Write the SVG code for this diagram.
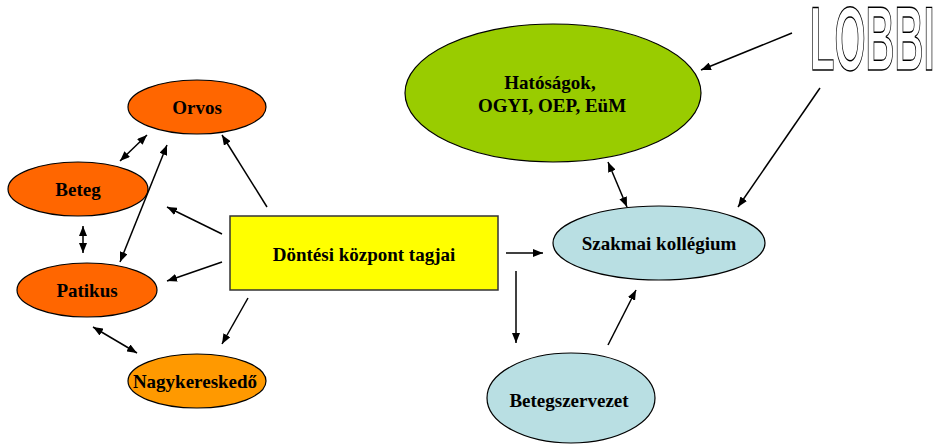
<svg xmlns="http://www.w3.org/2000/svg" width="940" height="445" viewBox="0 0 940 445">
<defs>
<marker id="ah" viewBox="0 0 10 8" refX="10" refY="4" markerWidth="10" markerHeight="8" markerUnits="userSpaceOnUse" orient="auto-start-reverse">
<path d="M0,0 L10,4 L0,8 Z" fill="#000"/>
</marker>
<style>
.n{stroke:#000;stroke-width:1.2}
.t{font-family:"Liberation Serif","Times New Roman",serif;font-weight:bold;font-size:19px;fill:#000;text-anchor:middle}
.c line{stroke:#000;stroke-width:1.5;fill:none}
.one{marker-end:url(#ah)}
.two{marker-start:url(#ah);marker-end:url(#ah)}
</style>
</defs>
<rect width="940" height="445" fill="#fff"/>
<g id="orvos"><ellipse class="n" cx="197" cy="107" rx="69" ry="27" fill="#FF6600"/><text class="t" x="197" y="114">Orvos</text></g>
<g id="beteg"><ellipse class="n" cx="78" cy="189" rx="70" ry="27" fill="#FF6600"/><text class="t" x="78" y="196">Beteg</text></g>
<g id="patikus"><ellipse class="n" cx="87" cy="290" rx="70" ry="27" fill="#FF6600"/><text class="t" x="87" y="297">Patikus</text></g>
<g id="nagykereskedo"><ellipse class="n" cx="197" cy="381" rx="69" ry="27" fill="#FF9900"/><text class="t" x="195" y="388">Nagykereskedő</text></g>
<g id="dontesi"><rect x="230" y="216" width="268" height="74" fill="#FFFF00" stroke="#333" stroke-width="1.5"/><text class="t" x="364" y="261">Döntési központ tagjai</text></g>
<g id="hatosagok"><ellipse class="n" cx="553" cy="93" rx="148" ry="69" fill="#99CC00"/><text class="t" x="550" y="89">Hatóságok,</text><text class="t" x="552" y="112">OGYI, OEP, EüM</text></g>
<g id="szakmai"><ellipse class="n" cx="659" cy="243" rx="106" ry="37" fill="#B9DFE3"/><text class="t" x="659" y="250">Szakmai kollégium</text></g>
<g id="betegszervezet"><ellipse class="n" cx="571" cy="398" rx="84" ry="45" fill="#B9DFE3"/><text class="t" x="569" y="407">Betegszervezet</text></g>
<g id="lobbi"><text transform="translate(810,70) scale(0.44,1)" x="0" y="0" font-family="Liberation Sans,Arial,sans-serif" font-weight="bold" font-size="91" fill="#fff" stroke="#000" stroke-width="1.4">LOBBI</text></g>
<g class="c" id="connectors">
<line class="two" x1="120" y1="161" x2="147" y2="135"/>
<line class="two" x1="120" y1="262" x2="167" y2="145"/>
<line class="two" x1="83" y1="226" x2="83" y2="253"/>
<line class="one" x1="267" y1="207" x2="222" y2="135"/>
<line class="one" x1="222" y1="234" x2="167" y2="207"/>
<line class="one" x1="222" y1="262" x2="167" y2="281"/>
<line class="one" x1="248" y1="298" x2="222" y2="344"/>
<line class="two" x1="93" y1="327" x2="137" y2="353"/>
<line class="one" x1="506" y1="253" x2="543" y2="253"/>
<line class="one" x1="516" y1="271" x2="516" y2="343"/>
<line class="one" x1="608" y1="345" x2="636" y2="290"/>
<line class="two" x1="608" y1="162" x2="627" y2="207"/>
<line class="one" x1="792" y1="33" x2="701" y2="70"/>
<line class="one" x1="820" y1="88" x2="738" y2="207"/>
</g>
</svg>
